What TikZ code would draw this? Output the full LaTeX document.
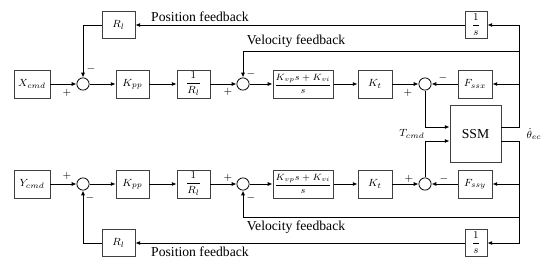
\documentclass[tikz,border=0pt]{standalone}
\usepackage{fontspec}
\setmainfont{Liberation Serif}
\usepackage{amsmath}
\usetikzlibrary{arrows.meta,positioning,calc}

\begin{document}
\begin{tikzpicture}[
    x=0.027cm, y=0.027cm,
    font=\fontsize{10.5}{12}\selectfont,
    blk/.style={draw=black!75, line width=0.5pt, inner sep=1pt, minimum width=0.89cm, minimum height=0.756cm, font=\fontsize{8}{9.6}\selectfont},
    piblk/.style={blk, minimum width=1.46cm, font=\fontsize{7}{8.4}\selectfont},
    sumnode/.style={draw, circle, line width=0.6pt, minimum size=0.33cm, inner sep=0pt},
    sign/.style={inner sep=0pt, font=\fontsize{8}{9.6}\selectfont},
    arrow/.style={-{Latex[length=1.3mm,width=1.1mm]}, line width=0.75pt}
  ]
    \useasboundingbox (0,0) rectangle (550,265);
    % x axis loop
    \node[blk, minimum width=0.97cm] (xcmd) at (32,181) {$X_{cmd}$};
    \node[sumnode] (sx1) at (83,181) {};
    \node[blk] (kppx) at (132.5,181) {$K_{pp}$};
    \node[blk] (irlx) at (193.5,181) {$\dfrac{1}{R_l}$};
    \node[sumnode] (sx2) at (243,181) {};
    \node[piblk] (pix) at (303,181) {$\dfrac{K_{vp}s+K_{vi}}{s}$};
    \node[blk, minimum width=0.92cm] (ktx) at (375,181) {$K_t$};
    \node[sumnode] (sx3) at (425,181) {};
    \node[blk, minimum width=0.92cm] (fssx) at (475,181) {$F_{ssx}$};
    \node[blk, minimum height=0.73cm] (rlx) at (118.5,240) {$R_l$};
    \node[blk, minimum width=0.594cm, minimum height=0.73cm] (intx) at (476,240) {$\dfrac{1}{s}$};
    % y axis loop
    \node[blk, minimum width=0.97cm] (ycmd) at (32,81) {$Y_{cmd}$};
    \node[sumnode] (sy1) at (83,81) {};
    \node[blk] (kppy) at (132.5,81) {$K_{pp}$};
    \node[blk] (irly) at (193.5,81) {$\dfrac{1}{R_l}$};
    \node[sumnode] (sy2) at (243,81) {};
    \node[piblk] (piy) at (303,81) {$\dfrac{K_{vp}s+K_{vi}}{s}$};
    \node[blk, minimum width=0.92cm] (kty) at (375,81) {$K_t$};
    \node[sumnode] (sy3) at (425,81) {};
    \node[blk, minimum width=0.92cm] (fssy) at (475,81) {$F_{ssy}$};
    \node[blk, minimum height=0.73cm] (rly) at (118.5,22) {$R_l$};
    \node[blk, minimum width=0.594cm, minimum height=0.73cm] (inty) at (476,22) {$\dfrac{1}{s}$};
    % plant
    \node[blk, minimum width=1.38cm, minimum height=1.54cm, font=\fontsize{10.5}{12}\selectfont] (ssm) at (475.5,131) {SSM};
    \coordinate (rail) at (519,131);
    \coordinate (velx) at (519,214);
    \coordinate (vely) at (519,48);

    % labels
    \node (posxl) at (200,248) {Position feedback};
    \node (velxl) at (296,224) {Velocity feedback};
    \node (posyl) at (200,13) {Position feedback};
    \node (velyl) at (296,38) {Velocity feedback};
    \node[sign] (tcmd) at (412,131) {$T_{cmd}$};
    \node[sign] (theta) at (534,131) {$\dot{\theta}_{ec}$};

    % signs
    \node[sign] (px1) at ([shift={(-16,-9)}]sx1.center) {$+$};
    \node[sign] (mx1) at ([shift={(8,15)}]sx1.center) {$-$};
    \node[sign] (px2) at ([shift={(-15,-8)}]sx2.center) {$+$};
    \node[sign] (mx2) at ([shift={(8,10)}]sx2.center) {$-$};
    \node[sign] (px3) at ([shift={(-17,-9)}]sx3.center) {$+$};
    \node[sign] (mx3) at ([shift={(18,6)}]sx3.center) {$-$};
    \node[sign] (py1) at ([shift={(-16,8)}]sy1.center) {$+$};
    \node[sign] (my1) at ([shift={(7,-14)}]sy1.center) {$-$};
    \node[sign] (py2) at ([shift={(-15,6)}]sy2.center) {$+$};
    \node[sign] (my2) at ([shift={(8,-14)}]sy2.center) {$-$};
    \node[sign] (py3) at ([shift={(-16,5)}]sy3.center) {$+$};
    \node[sign] (my3) at ([shift={(19,5)}]sy3.center) {$-$};

    % forward paths
    \draw[arrow] (xcmd) -- (sx1);
    \draw[arrow] (sx1) -- (kppx);
    \draw[arrow] (kppx) -- (irlx);
    \draw[arrow] (irlx) -- (sx2);
    \draw[arrow] (sx2) -- (pix);
    \draw[arrow] (pix) -- (ktx);
    \draw[arrow] (ktx) -- (sx3);
    \draw[arrow] (fssx) -- (sx3);
    \draw[arrow] (sx3.south) |- ($(ssm.west)+(0,7)$);
    \draw[arrow] (ycmd) -- (sy1);
    \draw[arrow] (sy1) -- (kppy);
    \draw[arrow] (kppy) -- (irly);
    \draw[arrow] (irly) -- (sy2);
    \draw[arrow] (sy2) -- (piy);
    \draw[arrow] (piy) -- (kty);
    \draw[arrow] (kty) -- (sy3);
    \draw[arrow] (fssy) -- (sy3);
    \draw[arrow] (sy3.north) |- ($(ssm.west)+(0,-7)$);

    % feedback paths
    \draw[arrow] ($(ssm.east)+(0,7)$) -| (rail |- intx.east) -- (intx.east);
    \draw[arrow] (rail |- fssx.east) -- (fssx.east);
    \draw[arrow] (velx) -| (sx2.north);
    \draw[arrow] (intx) -- (rlx);
    \draw[arrow] (rlx.west) -| (sx1.north);
    \draw[arrow] ($(ssm.east)+(0,-7)$) -| (rail |- inty.east) -- (inty.east);
    \draw[arrow] (rail |- fssy.east) -- (fssy.east);
    \draw[arrow] (vely) -| (sy2.south);
    \draw[arrow] (inty) -- (rly);
    \draw[arrow] (rly.west) -| (sy1.south);
  \end{tikzpicture}
\end{document}
